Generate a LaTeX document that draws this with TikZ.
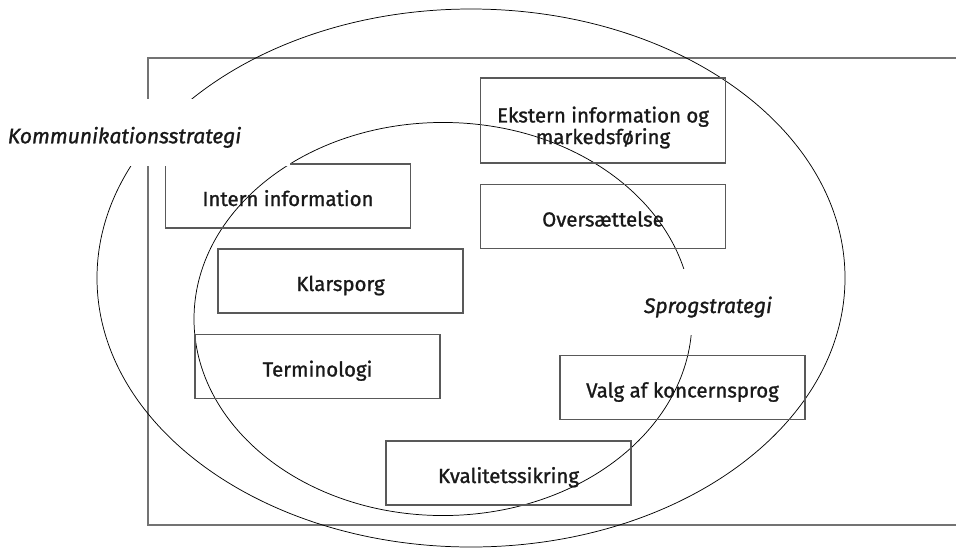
\documentclass[tikz,border=0pt]{standalone}
\usepackage{fontspec}
\setmainfont{Fira Sans}[FakeBold=1.2]
\newcommand\boxfont{\fontsize{15.3}{14.25}\selectfont}
\newcommand\labfont{\fontsize{15.8}{15.8}\selectfont\itshape}
\begin{document}
\begin{tikzpicture}[x=0.75pt,y=-0.75pt,
  frame/.style={draw=black!55,line width=0.9pt},
  ring/.style={draw=black,line width=0.55pt},
  box/.style={draw=black!65,line width=0.9pt,minimum width=183.75pt,minimum height=48pt,inner sep=0pt,font=\boxfont,text=black!90,text height=15pt,text depth=0pt},
  lab/.style={font=\labfont,text=black!90,inner sep=0pt}]
\useasboundingbox (0,0) rectangle (956,547);
% outer frame (open to the right)
\draw[frame] (960,58) -- (148,58) -- (148,525) -- (960,525);
% ellipses
\draw[ring] (471,278) ellipse [x radius=280.5pt, y radius=201.75pt];
\draw[ring] (443,319) ellipse [x radius=186.75pt, y radius=147.4pt];
% boxes
\node[box] (intern) at (288,196) {Intern information};
\node[box] (klar) at (340.5,281) {Klarsporg};
\node[box] (term) at (317.5,366.5) {Terminologi};
\node[box] (kval) at (508.5,473) {Kvalitetssikring};
\node[box] (valg) at (682.5,387.5) {Valg af koncernsprog};
\node[box,minimum height=63.75pt] (ekstern) at (603,120.5) {};
\node[font=\boxfont,text=black!90,align=center,inner sep=0pt] (eksterntext) at (603,127.5) {Ekstern information og\\markedsføring};
\node[box] (overs) at (603,216.5) {Oversættelse};
% white masks behind the labels
\fill[white] (-2,99) rectangle (290,165.5);
\fill[white] (630,269) rectangle (790,335);
% labels
\node[lab,anchor=base] (kom) at (124.5,143.3) {Kommunikationsstrategi};
\node[lab,anchor=base] (spro) at (708,313) {Sprogstrategi};
\end{tikzpicture}
\end{document}
